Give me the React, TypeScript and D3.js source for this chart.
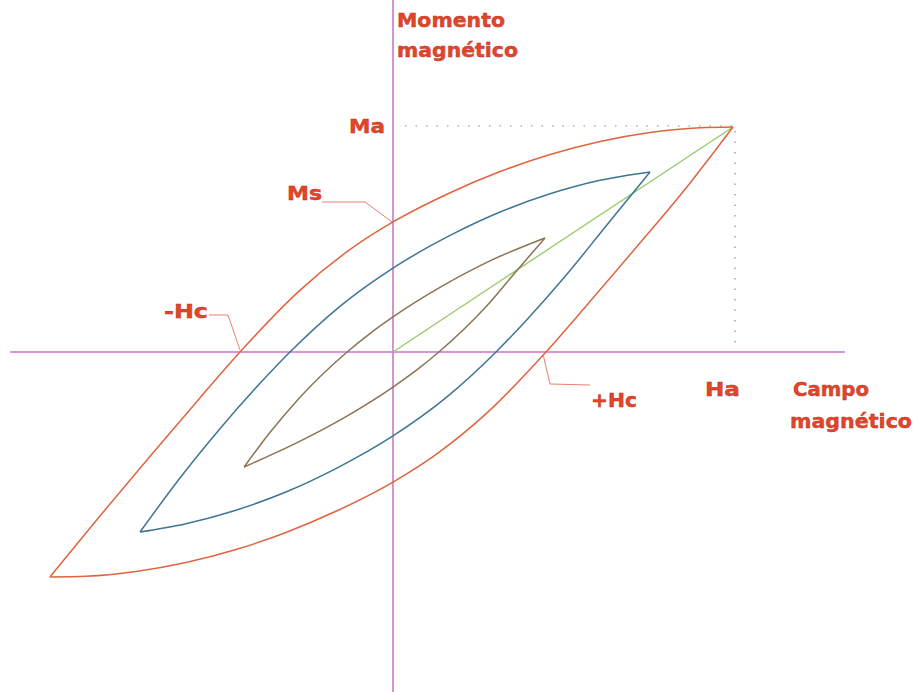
import React from "react";
import * as d3 from "d3";

// Hysteresis loops: field H (x) vs magnetic moment M (y), arbitrary units (Ha = 1, Ma = 1)
const outerUpperH = [-1.009, -0.862, -0.715, -0.568, -0.45, -0.274, -0.126, 0, 0.168, 0.315, 0.462, 0.609, 0.756, 0.903, 1];
const outerUpperM = [-1.0, -0.729, -0.464, -0.204, 0, 0.274, 0.456, 0.578, 0.708, 0.802, 0.878, 0.936, 0.976, 0.997, 1];
const outerLowerH = [-1.009, -0.903, -0.756, -0.609, -0.462, -0.315, -0.168, 0, 0.126, 0.274, 0.45, 0.568, 0.715, 0.862, 1];
const outerLowerM = [-1.0, -0.997, -0.976, -0.936, -0.878, -0.802, -0.708, -0.578, -0.456, -0.274, 0, 0.204, 0.464, 0.729, 1];

const midUpperH = [-0.744, -0.626, -0.509, -0.391, -0.303, -0.156, 0, 0.168, 0.315, 0.462, 0.609, 0.756];
const midUpperM = [-0.8, -0.559, -0.341, -0.139, 0, 0.203, 0.373, 0.518, 0.622, 0.703, 0.763, 0.8];
const midLowerH = [-0.744, -0.609, -0.462, -0.315, -0.168, 0, 0.156, 0.303, 0.391, 0.509, 0.626, 0.756];
const midLowerM = [-0.8, -0.763, -0.703, -0.622, -0.518, -0.373, -0.203, 0, 0.139, 0.341, 0.559, 0.8];

const innerUpperH = [-0.438, -0.362, -0.274, -0.135, -0.068, 0, 0.138, 0.285, 0.447];
const innerUpperM = [-0.511, -0.358, -0.202, 0, 0.082, 0.156, 0.287, 0.405, 0.507];
const innerLowerH = [-0.438, -0.285, -0.138, 0, 0.068, 0.135, 0.274, 0.362, 0.447];
const innerLowerM = [-0.511, -0.405, -0.287, -0.156, -0.082, 0, 0.202, 0.358, 0.507];

const initialH = [0, 1];
const initialM = [0, 1];

const axisHExtent = [-1.126, 1.329];
const axisMExtent = [-1.511, 1.564];

const Ha = 1;
const Ma = 1;
const Ms = 0.578;
const HcNeg = -0.45;
const HcPos = 0.45;

const RED = "#e2462a";

export default function App() {
  const W = 917;
  const H = 692;
  const x = d3.scaleLinear().domain([0, 1]).range([393, 733]);
  const y = d3.scaleLinear().domain([0, 1]).range([352, 127]);

  const line = d3
    .line<[number, number]>()
    .x((d) => x(d[0]))
    .y((d) => y(d[1]))
    .curve(d3.curveMonotoneX);

  const zip = (a: number[], b: number[]) => a.map((v, i) => [v, b[i]] as [number, number]);

  const branches = [
    { h: outerUpperH, m: outerUpperM, c: "#e0643f" },
    { h: outerLowerH, m: outerLowerM, c: "#e0643f" },
    { h: midUpperH, m: midUpperM, c: "#3e7592" },
    { h: midLowerH, m: midLowerM, c: "#3e7592" },
    { h: innerUpperH, m: innerUpperM, c: "#8a7452" },
    { h: innerLowerH, m: innerLowerM, c: "#8a7452" },
  ];

  const font = "'DejaVu Sans', sans-serif";
  const lbl = (t: string, tx: number, ty: number, len: number, anchor = "start") => (
    <text
      x={tx}
      y={ty}
      fill={RED}
      stroke="#b83020"
      strokeWidth={0.4}
      fontFamily={font}
      fontWeight="bold"
      fontSize={19}
      textAnchor={anchor}
      textLength={len}
      lengthAdjust="spacingAndGlyphs"
    >
      {t}
    </text>
  );

  return (
    <svg
      width={W}
      height={H}
      style={{ position: "absolute", left: 0, top: 0, background: "#fff" }}
    >
      {/* axes */}
      <line x1={x(axisHExtent[0])} x2={x(axisHExtent[1])} y1={y(0)} y2={y(0)} stroke="#d070c8" strokeWidth={1.6} />
      <line x1={x(0)} x2={x(0)} y1={y(axisMExtent[1])} y2={y(axisMExtent[0])} stroke="#c87ac8" strokeWidth={1.6} />

      {/* dotted guides */}
      <line x1={x(0) + 12} x2={x(Ha)} y1={y(Ma) - 1} y2={y(Ma) - 1} stroke="#8a8a8a" strokeWidth={1.2} strokeDasharray="1.5,9" />
      <line x1={x(Ha) + 2} x2={x(Ha) + 2} y1={y(Ma) + 4} y2={y(0) - 6} stroke="#8a8a8a" strokeWidth={1.2} strokeDasharray="1.5,9" />

      {/* initial magnetization */}
      <path d={line(zip(initialH, initialM)) || ""} fill="none" stroke="#96c86a" strokeWidth={1.3} />

      {branches.map((b, i) => (
        <path key={i} d={line(zip(b.h, b.m)) || ""} fill="none" stroke={b.c} strokeWidth={1.5} />
      ))}

      {/* leader lines */}
      <polyline
        points={`322,202 365,202 ${x(0) - 1},${y(Ms)}`}
        fill="none"
        stroke="#e88070"
        strokeWidth={1}
      />
      <polyline
        points={`209,315 228,315 ${x(HcNeg)},${y(0) - 2}`}
        fill="none"
        stroke="#e88070"
        strokeWidth={1}
      />
      <polyline
        points={`${x(HcPos) - 3},${y(0) + 2} 550,384 590,385`}
        fill="none"
        stroke="#e88070"
        strokeWidth={1}
      />

      {/* labels */}
      {lbl("Momento", 397, 27, 108)}
      {lbl("magnético", 397, 57, 121)}
      {lbl("Ma", 385, 133, 36, "end")}
      {lbl("Ms", 287, 200, 35)}
      {lbl("-Hc", 164, 318, 44)}
      {lbl("+Hc", 591, 407, 46)}
      {lbl("Ha", 705, 396, 35)}
      {lbl("Campo", 793, 396, 76)}
      {lbl("magnético", 790, 428, 122)}
    </svg>
  );
}
